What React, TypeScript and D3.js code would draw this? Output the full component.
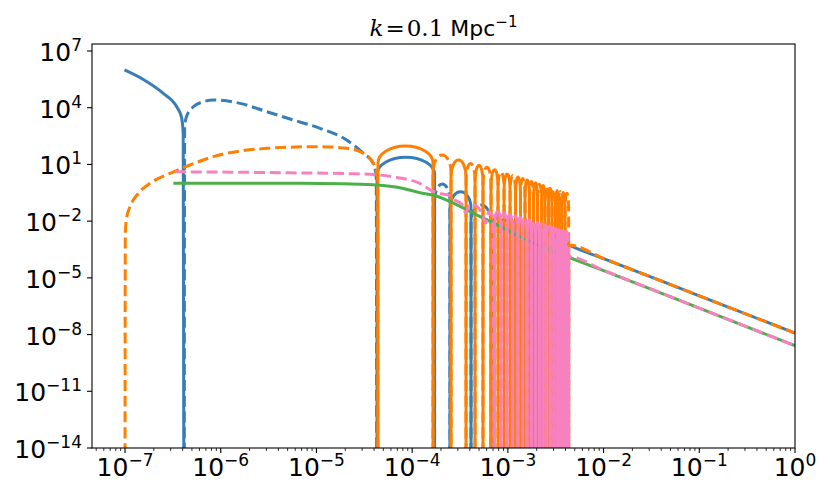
import * as d3 from "d3";

// values: [log10 a, log10 |value|]
const FLOOR = -16; // "zero" - far below the axis, gets clipped

const blueEarlyPos = [
  [-7.005, 6.0], [-6.8, 5.47], [-6.6, 4.76], [-6.46, 4.05], [-6.41, 3.5],
  [-6.392, 2.6], [-6.385, FLOOR],
];
const blueEarlyNeg = [
  [-6.381, FLOOR], [-6.377, 3.0], [-6.36, 3.5], [-6.286, 4.05], [-6.18, 4.32],
  [-6.077, 4.41], [-5.798, 4.23], [-5.519, 3.79], [-5.242, 3.35], [-4.963, 2.91],
  [-4.684, 2.29], [-4.51, 1.59], [-4.406, 1.06], [-4.375, 0.3], [-4.37, FLOOR],
];
const blueLatePos = [
  [-3.176, FLOOR], [-3.17, -2.3], [-3.13, -1.85], [-3.05, -1.94], [-2.904, -2.11],
  [-2.664, -2.56], [-2.528, -2.82], [-2.365, -3.26], [-2.0, -3.98], [-1.0, -5.95],
  [0, -7.92],
];
const orangeEarlyNeg = [
  [-7.0, FLOOR], [-6.997, -2.6], [-6.982, -1.8], [-6.948, -1.24], [-6.861, -0.53],
  [-6.739, 0.0], [-6.53, 0.53], [-6.321, 0.97], [-6.077, 1.41], [-5.519, 1.85],
  [-4.963, 1.94], [-4.684, 1.85], [-4.51, 1.59], [-4.406, 1.06], [-4.362, 0.3],
  [-4.357, FLOOR],
];
const orangeLateNeg = [
  [-2.365, FLOOR], [-2.363, -3.26], [-2.0, -3.98], [-1.0, -5.95], [0, -7.92],
];
const greenPos = [
  [-6.495, 0.0], [-5.171, 0.0], [-4.754, -0.02], [-4.409, -0.08], [-4.127, -0.23],
  [-3.918, -0.5], [-3.782, -0.62], [-3.604, -0.97], [-3.364, -1.57], [-3.113, -2.2],
  [-2.842, -2.9], [-2.612, -3.42], [-2.365, -3.91], [-2.0, -4.62], [-1.0, -6.6],
  [0, -8.59],
];
const pinkEarlyNeg = [
  [-6.478, 0.61], [-5.694, 0.58], [-5.171, 0.55], [-4.649, 0.51], [-4.367, 0.45],
  [-4.127, 0.28], [-3.918, 0.0], [-3.782, -0.42], [-3.7, -0.55], [-3.62, -0.62],
  [-3.55, -0.9], [-3.48, -1.1], [-3.44, -1.55], [-3.4, -1.1], [-3.33, -1.2],
  [-3.27, -1.6], [-3.23, -2.1], [-3.2, -1.5], [-3.16, -1.7], [-3.142, FLOOR],
];
const pinkLateNeg = [
  [-2.365, FLOOR], [-2.363, -3.88], [-2.0, -4.6], [-1.0, -6.6], [0, -8.59],
];

// oscillating stretch: zero crossings (log10 a) and lobe peaks, first lobe positive
const blueCross = [-4.367, -3.766, -3.605, -3.385, -3.176];
const bluePeaks = [1.38, -0.04, -0.44, -1.15];
const orangeCross = [
  -4.357, -3.782, -3.594, -3.437, -3.343, -3.26, -3.176, -3.103, -3.04, -2.977,
  -2.92, -2.868, -2.821, -2.774, -2.732, -2.69, -2.648, -2.612, -2.575, -2.539,
  -2.502, -2.471, -2.439, -2.403, -2.365,
];
const orangePeaks = [
  1.97, 1.5, 1.23, 1.05, 0.95, 0.85, 0.72, 0.6, 0.5, 0.42, 0.34, 0.26, 0.18, 0.1,
  0.03, -0.05, -0.12, -0.19, -0.26, -0.32, -0.38, -0.43, -0.48, -0.53,
];
const pinkCross = [
  -3.14, -3.072, -3.009, -2.95, -2.895, -2.846, -2.799, -2.754, -2.711, -2.669,
  -2.631, -2.595, -2.557, -2.521, -2.487, -2.456, -2.425, -2.395, -2.365,
];
const pinkPeaks = [
  -1.5, -1.58, -1.65, -1.72, -1.79, -1.86, -1.93, -2.0, -2.07, -2.13, -2.2, -2.26,
  -2.32, -2.38, -2.44, -2.49, -2.54, -2.58,
];

const xTickExps = [-7, -6, -5, -4, -3, -2, -1, 0];
const yTickExps = [-14, -11, -8, -5, -2, 1, 4, 7];

const BLUE = "#377eb8";
const ORANGE = "#ff7f00";
const GREEN = "#4daf4a";
const PINK = "#f781bf";

export default function App() {
  const W = 830;
  const H = 498;
  const left = 92, right = 795, top = 44, bottom = 448;

  const x = d3.scaleLog().domain([10 ** -7.345, 1]).range([left, right]);
  const y = d3.scaleLog().domain([1e-14, 10 ** 7.37]).range([bottom, top]);

  const line = d3
    .line<number[]>()
    .x((d) => x(10 ** d[0]))
    .y((d) => y(10 ** d[1]))
    .curve(d3.curveMonotoneX);

  // one dome per lobe between two zero crossings
  const lobes = (cross: number[], peaks: number[], sign: number) => {
    const yb = y(10 ** FLOOR);
    let d = "";
    peaks.forEach((pk, i) => {
      const s = i % 2 === 0 ? 1 : -1;
      if (s !== sign) return;
      const x0 = x(10 ** cross[i]);
      const x1 = x(10 ** cross[i + 1]);
      const yp = y(10 ** pk);
      const rx = (x1 - x0) / 2;
      const ry = 17;
      d += `M${x0},${yb}L${x0},${yp + ry}A${rx},${ry} 0 0 1 ${x1},${yp + ry}L${x1},${yb}`;
    });
    return d;
  };

  const series = [
    { color: BLUE, solid: [line(blueEarlyPos), lobes(blueCross, bluePeaks, 1), line(blueLatePos)], dashed: [line(blueEarlyNeg), lobes(blueCross, bluePeaks, -1)] },
    { color: ORANGE, solid: [lobes(orangeCross, orangePeaks, 1)], dashed: [line(orangeEarlyNeg), lobes(orangeCross, orangePeaks, -1), line(orangeLateNeg)] },
    { color: GREEN, solid: [line(greenPos)], dashed: [] },
    { color: PINK, solid: [lobes(pinkCross, pinkPeaks, 1)], dashed: [line(pinkEarlyNeg), lobes(pinkCross, pinkPeaks, -1), line(pinkLateNeg)] },
  ];

  const minor = x.ticks().filter((t) => Math.abs(Math.log10(t) - Math.round(Math.log10(t))) > 1e-6);
  const sup = (e: number) => (e < 0 ? "\u2212" + -e : String(e));

  return (
    <svg width={W} height={H} style={{ position: "absolute", left: 0, top: 0, background: "#fff" }} fontFamily="DejaVu Sans">
      <defs>
        <clipPath id="plot">
          <rect x={left} y={top} width={right - left} height={bottom - top} />
        </clipPath>
      </defs>
      <g clipPath="url(#plot)" fill="none" strokeWidth={3}>
        {series.map((s, i) => (
          <g key={i} stroke={s.color}>
            {s.solid.map((d, j) => <path key={"s" + j} d={d || ""} />)}
            {s.dashed.map((d, j) => <path key={"d" + j} d={d || ""} strokeDasharray="11 4.8" />)}
          </g>
        ))}
      </g>
      <rect x={left} y={top} width={right - left} height={bottom - top} fill="none" stroke="#000" strokeWidth={1.1} />
      {/* x axis */}
      {minor.map((t, i) => (
        <line key={"m" + i} x1={x(t)} x2={x(t)} y1={bottom} y2={bottom + 3} stroke="#000" strokeWidth={0.8} />
      ))}
      {xTickExps.map((e) => (
        <g key={"x" + e}>
          <line x1={x(10 ** e)} x2={x(10 ** e)} y1={bottom} y2={bottom + 5} stroke="#000" strokeWidth={1.1} />
          <text x={x(10 ** e)} y={476} textAnchor="middle" fontSize={25}>
            10<tspan dy={-10} fontSize={17}>{sup(e)}</tspan>
          </text>
        </g>
      ))}
      {/* y axis */}
      {yTickExps.map((e) => (
        <g key={"y" + e}>
          <line x1={left - 5} x2={left} y1={y(10 ** e)} y2={y(10 ** e)} stroke="#000" strokeWidth={1.1} />
          <text x={82} y={y(10 ** e) + 10} textAnchor="end" fontSize={25}>
            10<tspan dy={-10} fontSize={17}>{sup(e)}</tspan>
          </text>
        </g>
      ))}
      <text x={(left + right) / 2} y={36} textAnchor="middle" fontSize={23}>
        <tspan fontFamily="DejaVu Serif" fontStyle="italic">k</tspan>
        <tspan fontFamily="DejaVu Serif" dx={2}>=</tspan>
        <tspan fontFamily="DejaVu Serif" dx={2}>0.1</tspan>
        <tspan fontSize={22}> Mpc</tspan>
        <tspan fontSize={15} dy={-9}>{"\u22121"}</tspan>
      </text>
    </svg>
  );
}
